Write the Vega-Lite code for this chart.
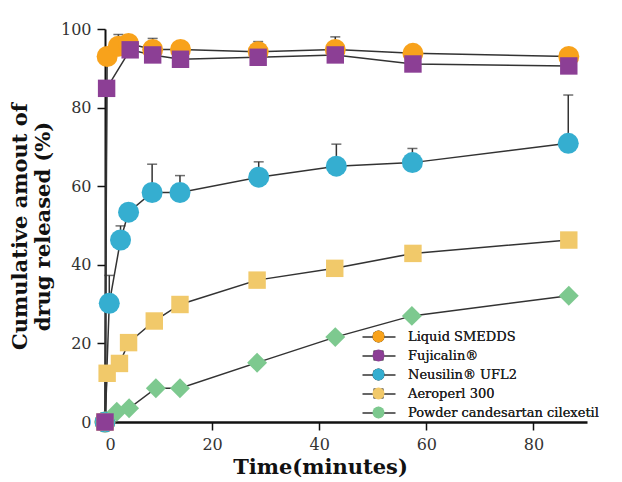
{
  "$schema": "https://vega.github.io/schema/vega-lite/v6.json",
  "width": 482,
  "height": 393,
  "autosize": {"type": "none"},
  "padding": {"left": 105, "top": 29, "right": 35, "bottom": 60},
  "background": "white",
  "config": {"view": {"stroke": null}, "font": "DejaVu Serif"},
  "data": {
    "values": [
      {"series": "Liquid SMEDDS", "t": 0, "pct": 0},
      {"series": "Liquid SMEDDS", "t": 0.4, "pct": 93.0},
      {"series": "Liquid SMEDDS", "t": 2.5, "pct": 95.6, "upper": 98.6},
      {"series": "Liquid SMEDDS", "t": 4.4, "pct": 96.3},
      {"series": "Liquid SMEDDS", "t": 8.9, "pct": 94.8, "upper": 97.6},
      {"series": "Liquid SMEDDS", "t": 14.1, "pct": 94.8},
      {"series": "Liquid SMEDDS", "t": 28.6, "pct": 94.2, "upper": 96.8},
      {"series": "Liquid SMEDDS", "t": 43.0, "pct": 94.8, "upper": 98.0},
      {"series": "Liquid SMEDDS", "t": 57.5, "pct": 93.8},
      {"series": "Liquid SMEDDS", "t": 86.6, "pct": 93.0},
      {"series": "Neusilin® UFL2", "t": 0, "pct": 0},
      {"series": "Neusilin® UFL2", "t": 0.8, "pct": 30.2, "upper": 37.3},
      {"series": "Neusilin® UFL2", "t": 2.9, "pct": 46.3, "upper": 49.9},
      {"series": "Neusilin® UFL2", "t": 4.4, "pct": 53.4},
      {"series": "Neusilin® UFL2", "t": 8.8, "pct": 58.4, "upper": 65.6},
      {"series": "Neusilin® UFL2", "t": 14.0, "pct": 58.4, "upper": 62.7},
      {"series": "Neusilin® UFL2", "t": 28.7, "pct": 62.3, "upper": 66.2},
      {"series": "Neusilin® UFL2", "t": 43.2, "pct": 65.1, "upper": 70.7},
      {"series": "Neusilin® UFL2", "t": 57.4, "pct": 66.0, "upper": 69.6},
      {"series": "Neusilin® UFL2", "t": 86.5, "pct": 70.9, "upper": 83.2},
      {"series": "Aeroperl 300", "t": 0, "pct": 0},
      {"series": "Aeroperl 300", "t": 0.4, "pct": 12.4},
      {"series": "Aeroperl 300", "t": 2.7, "pct": 14.9},
      {"series": "Aeroperl 300", "t": 4.4, "pct": 20.2},
      {"series": "Aeroperl 300", "t": 9.2, "pct": 25.7},
      {"series": "Aeroperl 300", "t": 14.0, "pct": 29.9},
      {"series": "Aeroperl 300", "t": 28.4, "pct": 36.1},
      {"series": "Aeroperl 300", "t": 42.9, "pct": 39.1},
      {"series": "Aeroperl 300", "t": 57.5, "pct": 42.9},
      {"series": "Aeroperl 300", "t": 86.6, "pct": 46.3},
      {"series": "Powder candesartan cilexetil", "t": 0, "pct": 0},
      {"series": "Powder candesartan cilexetil", "t": 2.2, "pct": 2.6},
      {"series": "Powder candesartan cilexetil", "t": 4.5, "pct": 3.5},
      {"series": "Powder candesartan cilexetil", "t": 9.5, "pct": 8.6},
      {"series": "Powder candesartan cilexetil", "t": 14.0, "pct": 8.6},
      {"series": "Powder candesartan cilexetil", "t": 28.4, "pct": 15.1},
      {"series": "Powder candesartan cilexetil", "t": 43.0, "pct": 21.6},
      {"series": "Powder candesartan cilexetil", "t": 57.3, "pct": 27.0},
      {"series": "Powder candesartan cilexetil", "t": 86.6, "pct": 32.1},
      {"series": "Fujicalin®", "t": 0, "pct": 0},
      {"series": "Fujicalin®", "t": 0.3, "pct": 84.9},
      {"series": "Fujicalin®", "t": 4.7, "pct": 94.7},
      {"series": "Fujicalin®", "t": 8.9, "pct": 93.4},
      {"series": "Fujicalin®", "t": 14.1, "pct": 92.3},
      {"series": "Fujicalin®", "t": 28.6, "pct": 92.8},
      {"series": "Fujicalin®", "t": 43.0, "pct": 93.4},
      {"series": "Fujicalin®", "t": 57.5, "pct": 91.1},
      {"series": "Fujicalin®", "t": 86.6, "pct": 90.6}
    ]
  },
  "layer": [
    {
      "mark": {"type": "line", "strokeWidth": 1.5},
      "encoding": {
        "x": {
          "field": "t", "type": "quantitative",
          "scale": {"domain": [0, 90], "nice": false},
          "axis": {
            "values": [0, 20, 40, 60, 80], "grid": false,
            "title": "Time(minutes)", "titleFont": "DejaVu Serif", "titleFontWeight": "bold",
            "titleFontSize": 21, "titleColor": "#111", "titleX": 215, "titleY": 51,
            "titleAlign": "center", "titleBaseline": "alphabetic", "titleAnchor": null,
            "labelFont": "DejaVu Serif", "labelFontSize": 16, "labelColor": "#333",
            "labelPadding": 6, "tickSize": 8, "tickColor": "#111", "tickWidth": 1.5,
            "domainColor": "#111", "domainWidth": 2.5
          }
        },
        "y": {
          "field": "pct", "type": "quantitative",
          "scale": {"domain": [0, 100], "nice": false},
          "axis": {
            "values": [0, 20, 40, 60, 80, 100], "grid": false,
            "title": ["Cumulative amout of", "drug released (%)"],
            "titleFont": "DejaVu Serif", "titleFontWeight": "bold", "titleFontSize": 21,
            "titleLineHeight": 23, "titleColor": "#111", "titleAngle": -90,
            "titleX": -85, "titleY": 197, "titleAlign": "center", "titleBaseline": "middle",
            "titleAnchor": null,
            "labelFont": "DejaVu Serif", "labelFontSize": 16, "labelColor": "#333",
            "labelPadding": 6, "tickSize": 8, "tickColor": "#111", "tickWidth": 1.5,
            "domainColor": "#111", "domainWidth": 2
          }
        },
        "color": {
          "field": "series", "type": "nominal",
          "scale": {
            "domain": ["Liquid SMEDDS", "Fujicalin®", "Neusilin® UFL2", "Aeroperl 300", "Powder candesartan cilexetil"],
            "range": ["#333333", "#333333", "#333333", "#333333", "#333333"]
          },
          "legend": {
            "orient": "none", "legendX": 267, "legendY": 301, "title": null, "padding": 0,
            "symbolType": "M-2.75,0L2.75,0", "symbolSize": 144, "symbolStrokeWidth": 1.5,
            "labelFont": "DejaVu Serif", "labelFontSize": 13, "labelOpacity": 0,
            "labelColor": "rgba(0,0,0,0)", "labelLimit": 400,
            "labelOffset": 23, "rowPadding": 5, "zindex": 1
          }
        }
      }
    },
    {
      "transform": [{"filter": "isValid(datum.upper)"}],
      "mark": {"type": "rule", "color": "#333333", "strokeWidth": 1.5},
      "encoding": {
        "x": {"field": "t", "type": "quantitative"},
        "y": {"field": "pct", "type": "quantitative"},
        "y2": {"field": "upper"}
      }
    },
    {
      "transform": [{"filter": "isValid(datum.upper)"}],
      "mark": {"type": "tick", "orient": "horizontal", "color": "#333333", "size": 10, "thickness": 1.5},
      "encoding": {
        "x": {"field": "t", "type": "quantitative"},
        "y": {"field": "upper", "type": "quantitative"}
      }
    },
    {
      "mark": {"type": "point", "filled": true, "opacity": 1, "strokeWidth": 0, "size": 441},
      "encoding": {
        "x": {"field": "t", "type": "quantitative"},
        "y": {"field": "pct", "type": "quantitative"},
        "fill": {
          "field": "series", "type": "nominal",
          "sort": ["Liquid SMEDDS", "Fujicalin®", "Neusilin® UFL2", "Aeroperl 300", "Powder candesartan cilexetil"],
          "scale": {"range": ["#F8A21B", "#8C3F95", "#35AED0", "#F1C96A", "#7DC98F"]},
          "legend": {
            "orient": "none", "legendX": 267, "legendY": 301, "title": null, "padding": 0,
            "symbolSize": 144, "symbolStrokeWidth": 0, "symbolOpacity": 1,
            "labelFont": "DejaVu Serif", "labelFontSize": 13, "labelColor": "#222", "labelLimit": 400,
            "labelOffset": 23, "rowPadding": 5, "zindex": 2
          }
        },
        "shape": {
          "field": "series", "type": "nominal",
          "sort": ["Liquid SMEDDS", "Fujicalin®", "Neusilin® UFL2", "Aeroperl 300", "Powder candesartan cilexetil"],
          "scale": {"range": ["circle", "M-0.83,-0.83L0.83,-0.83L0.83,0.83L-0.83,0.83Z", "circle", "M-0.83,-0.83L0.83,-0.83L0.83,0.83L-0.83,0.83Z", "M0,-0.95L0.95,0L0,0.95L-0.95,0Z"]},
          "legend": {
            "orient": "none", "legendX": 267, "legendY": 301, "title": null, "padding": 0,
            "symbolSize": 144, "symbolStrokeWidth": 0, "symbolOpacity": 1,
            "labelFont": "DejaVu Serif", "labelFontSize": 13, "labelColor": "#222", "labelLimit": 400,
            "labelOffset": 23, "rowPadding": 5, "zindex": 2
          }
        }
      }
    }
  ]
}
